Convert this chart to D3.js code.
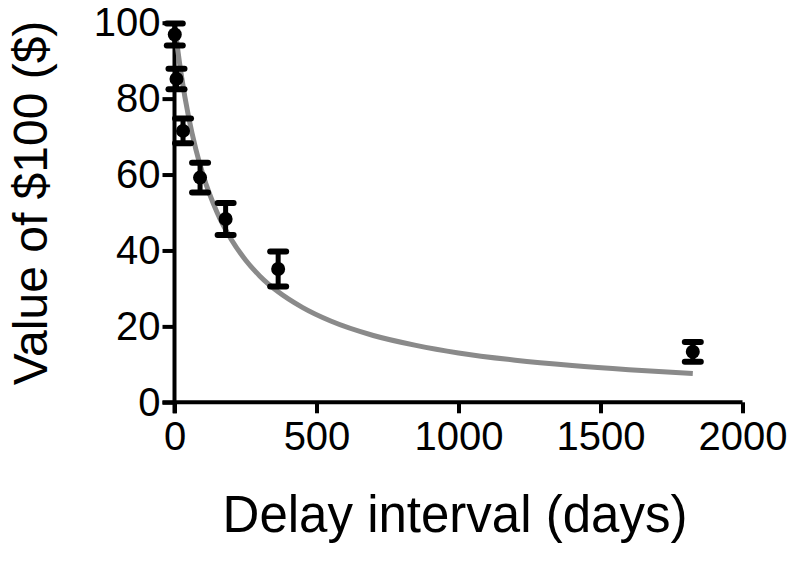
<!DOCTYPE html>
<html>
<head>
<meta charset="utf-8">
<script src="https://cdn.jsdelivr.net/npm/d3@7"></script>
<style>
  body { margin: 0; background: #fff; }
  text { font-family: "Liberation Sans", Arial, sans-serif; }
</style>
</head>
<body>
<script>
    const Width = 795;
    const Height = 562;

    // data
    const delays = [1, 7, 30, 90, 180, 365, 1825];
    const values = [96.9, 85.2, 71.5, 59.2, 48.3, 35.1, 13.3];
    const errors = [2.9, 2.7, 3.25, 3.9, 4.2, 4.6, 2.6];

    // fitted curve, points
    const curveDelays = [0, 10, 25, 50, 75, 100, 150, 200, 250, 300, 365, 450, 550, 700, 850, 1000, 1200, 1400, 1600, 1825];
    const curveValues = [100, 93.7, 85.7, 75, 66.7, 60, 50, 42.9, 37.5, 33.3, 29.1, 25, 21.4, 17.6, 15, 13, 11.1, 9.7, 8.6, 7.6];

    const xTicks = [0, 500, 1000, 1500, 2000];
    const yTicks = [0, 20, 40, 60, 80, 100];

    const svg = d3.select("body")
     .append("svg")
     .attr("width", Width)
     .attr("height", Height);

    const x = d3.scaleLinear().domain([0, 2000]).range([174.5, 742.5]);
    const y = d3.scaleLinear().domain([0, 100]).range([402.3, 22.7]);

    // axes
    const xAxis = svg.append("g")
     .attr("transform", "translate(0," + y(0) + ")")
     .call(d3.axisBottom(x).tickValues(xTicks).tickFormat(d3.format("d"))
       .tickSize(11).tickSizeOuter(0).tickPadding(8));

    const yAxis = svg.append("g")
     .attr("transform", "translate(" + x(0) + ",0)")
     .call(d3.axisLeft(y).tickValues(yTicks).tickFormat(d3.format("d"))
       .tickSize(12).tickSizeOuter(0).tickPadding(2));

    [xAxis, yAxis].forEach(function (g) {
      g.select(".domain").attr("stroke", "#000").attr("stroke-width", 4);
      g.selectAll(".tick line").attr("stroke", "#000").attr("stroke-width", 4);
      g.selectAll(".tick text").attr("fill", "#000").style("font-size", "40px");
    });
    // let the x axis reach the y-axis 0 tick
    xAxis.select(".domain").attr("d", "M" + (x(0) - 12) + ",0H" + x(2000));
    yAxis.select(".domain").attr("d", "M0," + y(100) + "V" + (y(0) + 11));

    // curve
    const line = d3.line()
     .x(function (d, i) { return x(curveDelays[i]); })
     .y(function (d) { return y(d); })
     .curve(d3.curveMonotoneX);

    svg.append("path")
     .datum(curveValues)
     .attr("d", line)
     .attr("fill", "none")
     .attr("stroke", "#8a8a8a")
     .attr("stroke-width", 5);

    // error bars
    const pts = svg.append("g");
    pts.selectAll("line.err")
     .data(values)
     .enter()
     .append("line")
     .attr("class", "err")
     .attr("x1", function (d, i) { return x(delays[i]); })
     .attr("x2", function (d, i) { return x(delays[i]); })
     .attr("y1", function (d, i) { return y(d + errors[i]); })
     .attr("y2", function (d, i) { return y(d - errors[i]); })
     .attr("stroke", "#000")
     .attr("stroke-width", 5);

    [1, -1].forEach(function (s) {
      pts.selectAll("line.cap" + s)
       .data(values)
       .enter()
       .append("line")
       .attr("x1", function (d, i) { return x(delays[i]) - 8; })
       .attr("x2", function (d, i) { return x(delays[i]) + 8; })
       .attr("y1", function (d, i) { return y(d + s * errors[i]); })
       .attr("y2", function (d, i) { return y(d + s * errors[i]); })
       .attr("stroke", "#000")
       .attr("stroke-width", 6)
       .attr("stroke-linecap", "round");
    });

    pts.selectAll("circle")
     .data(values)
     .enter()
     .append("circle")
     .attr("cx", function (d, i) { return x(delays[i]); })
     .attr("cy", function (d) { return y(d); })
     .attr("r", 7)
     .attr("fill", "#000");

    // axis titles
    svg.append("text")
     .attr("x", 455)
     .attr("y", 532)
     .attr("text-anchor", "middle")
     .style("font-size", "51px")
     .text("Delay interval (days)");

    svg.append("text")
     .attr("transform", "translate(47,203) rotate(-90)")
     .attr("text-anchor", "middle")
     .style("font-size", "48px")
     .text("Value of $100 ($)");
</script>
</body>
</html>
